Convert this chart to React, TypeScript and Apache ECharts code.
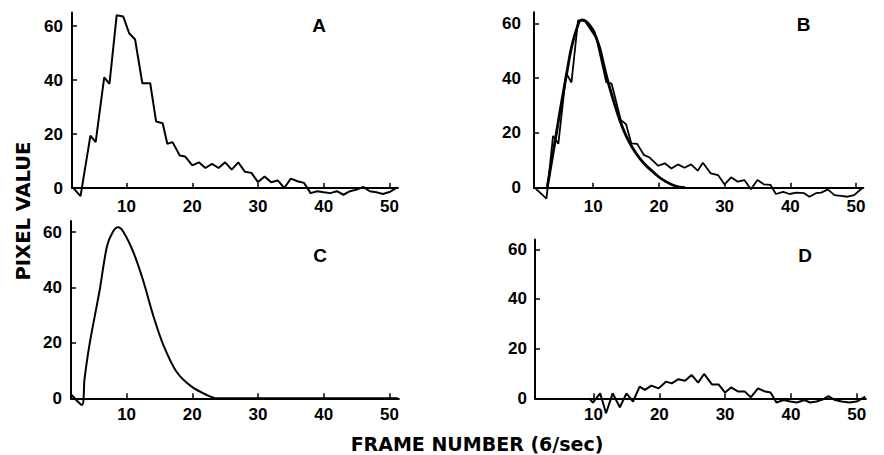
import React, { useEffect, useRef } from "react";
import * as echarts from "echarts";

// Tick labels
const xTicks = [10, 20, 30, 40, 50];
const yTicks = [0, 20, 40, 60];
const panelLetters = ["A", "B", "C", "D"];
const xTitle = "FRAME NUMBER (6/sec)";
const yTitle = "PIXEL VALUE";

// Panel A: measured curve
const aFrames = [1.7, 3.0, 4.5, 5.3, 6.6, 7.4, 8.5, 9.5, 10.4, 11.3, 12.4, 13.6, 14.5, 15.5, 16.2, 17, 18.1, 18.9, 20, 21, 22, 23, 24, 25, 26, 27, 28, 29, 30, 31, 32, 33, 34, 35, 36, 37, 38, 39, 40, 41, 42, 43, 44, 45, 46, 47, 48, 49, 50, 51.2];
const aValues = [0.5, -3, 19.4, 17, 41, 38.6, 64, 63.5, 57.3, 55, 38.8, 38.8, 24.6, 24, 16.4, 17, 12, 11.7, 8.4, 9.5, 7.4, 8.9, 7.4, 9.5, 6.8, 9.5, 6, 5.6, 2.2, 4.3, 2.1, 2.8, 0, 3.5, 2.5, 1.9, -1.9, -1.2, -1.6, -1.9, -1.2, -2.5, -1.2, -0.6, 0.4, -1.2, -1.6, -2.2, -1.5, 0.2];

// Panel B: measured curve
const bFrames = [1.1, 2.9, 3.9, 4.7, 5.9, 6.7, 7.7, 8.7, 10.5, 12, 12.8, 14.2, 15, 15.8, 16.7, 17.7, 18.6, 19.9, 20.9, 21.9, 22.9, 23.9, 24.9, 25.9, 26.7, 27.9, 29, 30, 31, 32, 33, 34, 35, 36, 37, 37.8, 38.9, 39.9, 40.9, 42.1, 42.9, 43.9, 44.7, 45.7, 46.7, 47.7, 48.7, 49.7, 51];
const bValues = [0, -4, 18.9, 16, 41.8, 38.4, 61, 61, 54.5, 38.5, 38, 24.7, 23.2, 16.2, 16, 12, 11, 8, 8.9, 7, 8.5, 7.3, 8.5, 6.2, 9.1, 5.2, 4.6, 1.2, 3.8, 2.2, 2.8, -0.6, 2.8, 1.2, 1, -2.3, -1.5, -2.3, -1.8, -2, -3.3, -2, -1.8, -0.6, -2.7, -3, -3.3, -2.7, 0];

// Panel B: fitted curve
const bFitFrames = [3, 4, 5, 6, 6.6, 7.3, 8.2, 9, 10, 10.5, 11, 12, 13, 14, 15, 16, 17, 18, 19, 20, 21, 22, 23, 24];
const bFitValues = [0, 14, 28.5, 42, 50, 56.5, 61.2, 60.5, 57.5, 54.5, 51, 41, 32.5, 25, 19, 14.5, 11, 8.2, 6, 3.9, 2.3, 1.1, 0.3, 0];

// Panel C: fitted curve alone
const cFrames = [1.64, 3.2, 3.6, 4.4, 5.9, 7.0, 7.9, 8.7, 9.5, 11.0, 12.5, 14.1, 15.6, 17.6, 19.9, 22.2, 23.7, 51.3];
const cValues = [1.2, -2.4, 7, 20, 39, 54.7, 60, 61.7, 60.1, 52.9, 42.7, 29.5, 19.2, 9.6, 4.2, 1.2, 0, 0];

// Panel D: residual
const dFrames = [9.3, 9.9, 11, 11.9, 12.9, 14, 15, 16, 17, 17.8, 18.8, 19.9, 21, 21.9, 22.9, 23.9, 24.9, 25.9, 26.8, 28, 29, 30, 30.9, 32, 33, 33.9, 35, 36.1, 36.9, 37.8, 38.9, 39.9, 40.9, 42.1, 42.9, 43.9, 44.9, 45.7, 46.7, 47.7, 48.9, 50, 51.3];
const dValues = [0, -1.7, 2, -6, 2, -3.6, 2, -1.3, 4.7, 3.4, 5.1, 4, 6.7, 6, 7.7, 7.1, 9.4, 6.3, 9.8, 5.6, 5.6, 2.3, 4.4, 2.7, 2.7, 0.4, 4, 2.7, 2.3, -1.7, -0.7, -1.3, -1.7, -0.7, -1.7, -1.3, -0.4, 0.9, -0.7, -1.3, -1.7, -1.3, 0.7];

function pairs(xs: number[], ys: number[]) {
  return xs.map((x, i) => [x, ys[i]]);
}

export default function App() {
  const ref = useRef<HTMLDivElement>(null);
  useEffect(() => {
    document.body.style.margin = "0";
    const chart = echarts.init(ref.current!, null, { renderer: "svg" });
    const font = "'Liberation Sans', Arial, sans-serif";
    const titleFont = "'DejaVu Sans', sans-serif";
    const ink = "#000";

    const grids = [
      { left: 72, top: 12.5, width: 326, height: 175.5 },
      { left: 534, top: 12.3, width: 329.3, height: 175.4 },
      { left: 71, top: 221, width: 327.9, height: 177.3 },
      { left: 535, top: 239.4, width: 330.9, height: 158.9 },
    ];
    const xRanges = [
      [1.7, 51.3],
      [1.0, 51.1],
      [1.54, 51.45],
      [1.1, 51.4],
    ];
    const yMax = [65, 64, 64, 64];
    const yMargins = [9, 13, 9, 8];
    const xMargins = [10, 10, 8, 8];

    const xAxis = grids.map((_, i) => ({
      type: "value",
      gridIndex: i,
      min: xRanges[i][0],
      max: xRanges[i][1],
      axisLine: { show: true, onZero: false, lineStyle: { color: ink, width: 2 } },
      axisTick: { show: true, inside: true, length: 5, customValues: xTicks, lineStyle: { color: ink, width: 1.5 } },
      axisLabel: {
        customValues: xTicks,
        margin: xMargins[i],
        color: ink,
        fontFamily: font,
        fontWeight: "bold",
        fontSize: 17,
      },
      splitLine: { show: false },
    }));

    const yAxis = grids.map((_, i) => ({
      type: "value",
      gridIndex: i,
      min: 0,
      max: yMax[i],
      axisLine: { show: true, lineStyle: { color: ink, width: 2 } },
      axisTick: { show: true, inside: true, length: 5, customValues: yTicks, lineStyle: { color: ink, width: 1.5 } },
      axisLabel: {
        customValues: yTicks,
        margin: yMargins[i],
        color: ink,
        fontFamily: font,
        fontWeight: "bold",
        fontSize: 17,
      },
      splitLine: { show: false },
    }));

    const lineSeries = (data: number[][], idx: number, width = 2, smooth: number | boolean = false) => ({
      type: "line",
      xAxisIndex: idx,
      yAxisIndex: idx,
      data,
      showSymbol: false,
      symbol: "none",
      clip: false,
      smooth,
      lineStyle: { color: ink, width },
      itemStyle: { color: ink },
      z: 3,
    });

    const letterPos = [
      [319, 25.5],
      [803.5, 24],
      [320, 255],
      [805, 255.5],
    ];

    chart.setOption({
      animation: false,
      backgroundColor: "#fff",
      grid: grids.map((g) => ({ ...g, containLabel: false })),
      xAxis,
      yAxis,
      series: [
        lineSeries(pairs(aFrames, aValues), 0),
        lineSeries(pairs(bFrames, bValues), 1, 1.8),
        lineSeries(pairs(bFitFrames, bFitValues), 1, 2.8, 0.3),
        lineSeries(pairs(cFrames, cValues), 2, 2, 0.3),
        lineSeries(pairs(dFrames, dValues), 3),
      ],
      graphic: [
        ...panelLetters.map((t, i) => ({
          type: "text",
          x: letterPos[i][0],
          y: letterPos[i][1],
          style: {
            text: t,
            fill: ink,
            font: `bold 19px ${font}`,
            align: "center",
            verticalAlign: "middle",
          },
        })),
        {
          type: "text",
          x: 477,
          y: 444,
          style: {
            text: xTitle,
            fill: ink,
            font: `bold 19px ${titleFont}`,
            align: "center",
            verticalAlign: "middle",
          },
        },
        {
          type: "text",
          x: 23,
          y: 211,
          rotation: Math.PI / 2,
          style: {
            text: yTitle,
            fill: ink,
            font: `bold 19.5px ${titleFont}`,
            align: "center",
            verticalAlign: "middle",
          },
        },
      ],
    });
    return () => chart.dispose();
  }, []);
  return <div ref={ref} style={{ width: 884, height: 455 }} />;
}
